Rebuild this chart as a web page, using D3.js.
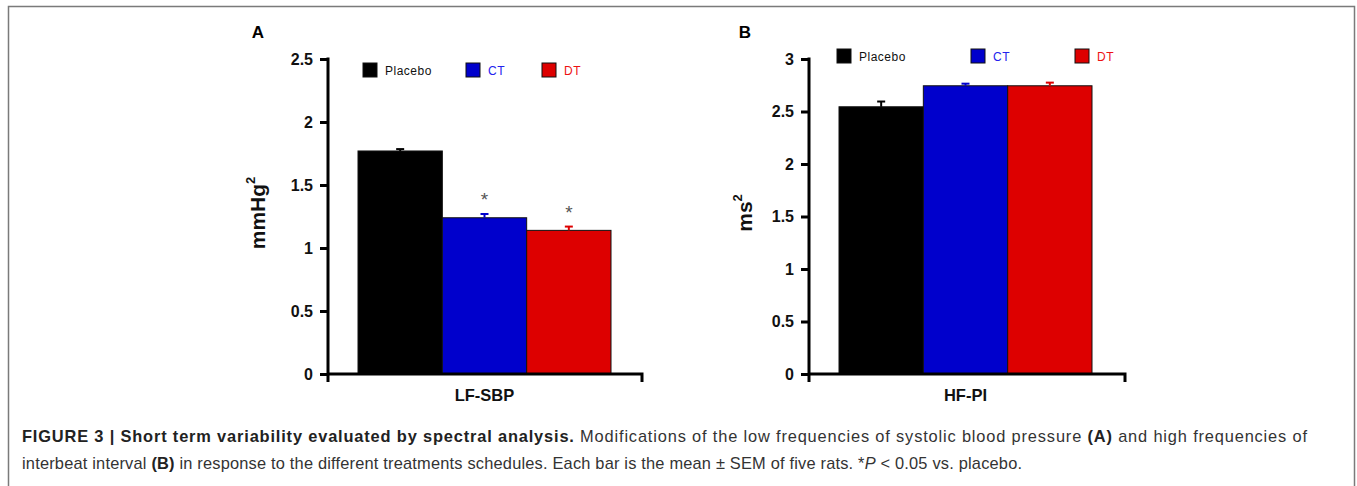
<!DOCTYPE html>
<html>
<head>
<meta charset="utf-8">
<script src="https://cdn.jsdelivr.net/npm/d3@7"></script>
<style>
  body { margin: 0; background: #fff; }
  svg { display: block; font-family: "Liberation Sans", Arial, sans-serif; }
</style>
</head>
<body>
<svg id="fig" width="1357" height="486"></svg>
<script>
// groups shared by both panels
const groups = ["Placebo", "CT", "DT"];
const barColors = ["#000000", "#0000cc", "#dd0000"];
const legendTextColors = ["#111111", "#2222ee", "#ee1111"];

// panel A: low frequency of systolic blood pressure
const lfSbpMean = [1.77, 1.24, 1.14];
const lfSbpSem = [0.015, 0.03, 0.03];
const lfSbpStar = [false, true, true];
const lfSbpTicks = [0, 0.5, 1, 1.5, 2, 2.5];

// panel B: high frequency of interbeat interval
const hfPiMean = [2.545, 2.745, 2.745];
const hfPiSem = [0.05, 0.02, 0.03];
const hfPiStar = [false, false, false];
const hfPiTicks = [0, 0.5, 1, 1.5, 2, 2.5, 3];

const svg = d3.select("#fig");

// outer frame
svg.append("rect")
  .attr("x", 8.5).attr("y", 6.5)
  .attr("width", 1346).attr("height", 500)
  .attr("fill", "none")
  .attr("stroke", "#7a7a7a")
  .attr("stroke-width", 1.5);

function drawPanel(p) {
  const y = d3.scaleLinear().domain([0, p.max]).range([374, 59]);
  const x = d3.scaleBand().domain(groups).range([p.barL, p.barR]).paddingInner(0);
  const g = svg.append("g");

  // bars
  g.selectAll(".bar")
    .data(groups)
    .enter()
    .append("rect")
    .attr("x", d => x(d))
    .attr("y", (d, i) => y(p.mean[i]))
    .attr("width", x.bandwidth())
    .attr("height", (d, i) => y(0) - y(p.mean[i]))
    .attr("fill", (d, i) => barColors[i])
    .attr("stroke", "#111")
    .attr("stroke-width", 1);

  // error bars (upper half only)
  groups.forEach(function (d, i) {
    const cx = x(d) + x.bandwidth() / 2;
    g.append("line")
      .attr("x1", cx).attr("x2", cx)
      .attr("y1", y(p.mean[i])).attr("y2", y(p.mean[i] + p.sem[i]))
      .attr("stroke", barColors[i]).attr("stroke-width", 2);
    g.append("line")
      .attr("x1", cx - 4).attr("x2", cx + 4)
      .attr("y1", y(p.mean[i] + p.sem[i])).attr("y2", y(p.mean[i] + p.sem[i]))
      .attr("stroke", barColors[i]).attr("stroke-width", 2);
    if (p.star[i]) {
      g.append("text")
        .attr("x", cx)
        .attr("y", y(p.mean[i] + p.sem[i]) - 8)
        .attr("text-anchor", "middle")
        .attr("font-size", 19)
        .attr("fill", "#555")
        .text("*");
    }
  });

  // y axis
  const yAxis = g.append("g")
    .attr("transform", "translate(" + p.axisX + ",0)")
    .call(d3.axisLeft(y).tickValues(p.ticks).tickSize(8).tickSizeOuter(0).tickPadding(7)
      .tickFormat(d => d));
  yAxis.select(".domain").remove();
  yAxis.selectAll(".tick line").attr("stroke", "#000").attr("stroke-width", 3);
  yAxis.selectAll(".tick text")
    .attr("font-size", 16)
    .attr("font-weight", "bold")
    .attr("font-family", "Liberation Sans, Arial, sans-serif")
    .attr("fill", "#111");

  g.append("line")
    .attr("x1", p.axisX).attr("x2", p.axisX)
    .attr("y1", y(p.max) - 1.5).attr("y2", y(0) + 8)
    .attr("stroke", "#000").attr("stroke-width", 3);
  g.append("path")
    .attr("d", "M" + p.axisX + "," + y(0) + "H" + p.axisEnd + "V" + (y(0) + 8))
    .attr("fill", "none")
    .attr("stroke", "#000").attr("stroke-width", 3);

  // labels
  g.append("text")
    .attr("x", (p.barL + p.barR) / 2)
    .attr("y", 401)
    .attr("text-anchor", "middle")
    .attr("font-size", 16.5).attr("font-weight", "bold").attr("fill", "#111")
    .text(p.xLabel);

  const yl = g.append("text")
    .attr("transform", "translate(" + p.yLabelX + ",213) rotate(-90)")
    .attr("text-anchor", "middle")
    .attr("font-size", 21).attr("font-weight", "bold").attr("fill", "#111");
  yl.append("tspan").text(p.yLabel);
  yl.append("tspan").attr("dy", -10).attr("font-size", 13).text("2");

  g.append("text")
    .attr("x", p.letterX).attr("y", 38)
    .attr("text-anchor", "middle")
    .attr("font-size", 17).attr("font-weight", "bold").attr("fill", "#000")
    .text(p.letter);

  // legend
  groups.forEach(function (d, i) {
    g.append("rect")
      .attr("x", p.legX[i]).attr("y", p.legY - 7)
      .attr("width", 14).attr("height", 14)
      .attr("fill", barColors[i])
      .attr("stroke", "#111").attr("stroke-width", 1);
    g.append("text")
      .attr("x", p.legX[i] + 22).attr("y", p.legY + 4.5)
      .attr("font-size", 12)
      .attr("letter-spacing", 0.5)
      .attr("fill", legendTextColors[i])
      .text(d);
  });
}

drawPanel({
  mean: lfSbpMean, sem: lfSbpSem, star: lfSbpStar, ticks: lfSbpTicks, max: 2.5,
  axisX: 328, axisEnd: 642, barL: 358, barR: 611,
  xLabel: "LF-SBP", yLabel: "mmHg", yLabelX: 265, letter: "A", letterX: 258,
  legX: [363, 466, 542], legY: 70
});

drawPanel({
  mean: hfPiMean, sem: hfPiSem, star: hfPiStar, ticks: hfPiTicks, max: 3,
  axisX: 809, axisEnd: 1125, barL: 839, barR: 1092,
  xLabel: "HF-PI", yLabel: "ms", yLabelX: 752, letter: "B", letterX: 745,
  legX: [837, 971, 1075], legY: 56
});

// caption
const cap = svg.append("g").attr("font-size", 16.4).attr("fill", "#333");
const l1 = cap.append("text").attr("x", 22).attr("y", 442)
  .attr("textLength", 1285).attr("lengthAdjust", "spacing");
l1.append("tspan").attr("font-weight", "bold").attr("fill", "#222")
  .text("FIGURE 3 | Short term variability evaluated by spectral analysis.");
l1.append("tspan").text(" Modifications of the low frequencies of systolic blood pressure ");
l1.append("tspan").attr("font-weight", "bold").attr("fill", "#222").text("(A)");
l1.append("tspan").text(" and high frequencies of");

const l2 = cap.append("text").attr("x", 22).attr("y", 469)
  .attr("textLength", 1000).attr("lengthAdjust", "spacing");
l2.append("tspan").text("interbeat interval ");
l2.append("tspan").attr("font-weight", "bold").attr("fill", "#222").text("(B)");
l2.append("tspan").text(" in response to the different treatments schedules. Each bar is the mean \u00b1 SEM of five rats. *");
l2.append("tspan").attr("font-style", "italic").text("P");
l2.append("tspan").text(" < 0.05 vs. placebo.");
</script>
</body>
</html>
